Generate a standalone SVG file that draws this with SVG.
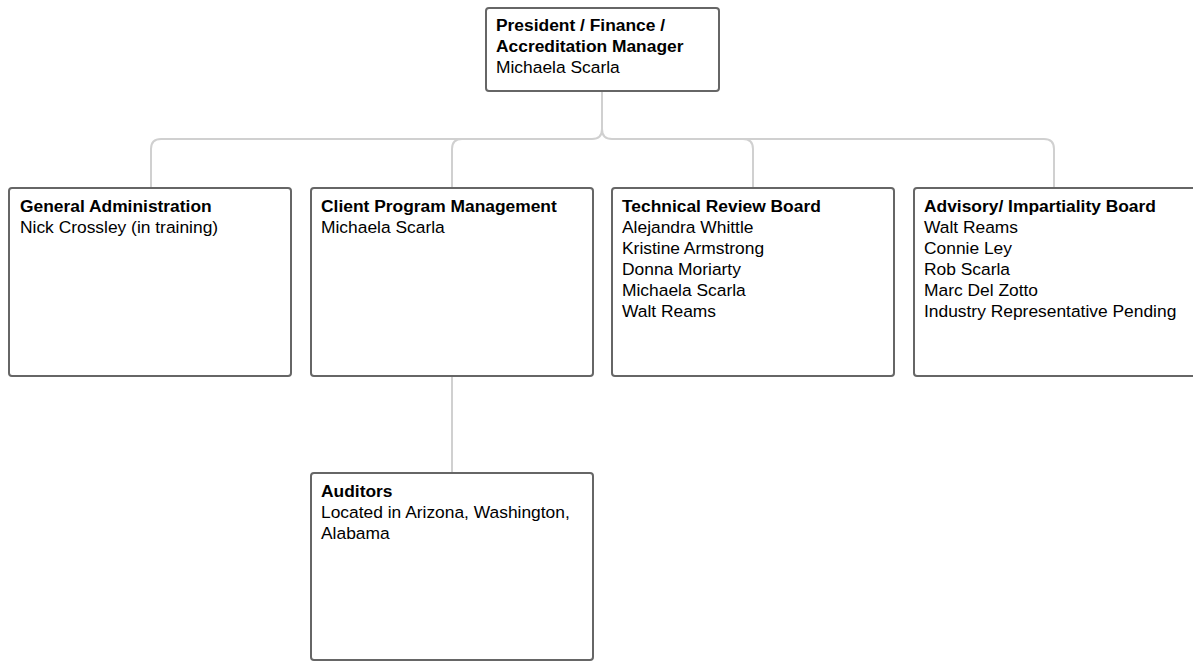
<svg xmlns="http://www.w3.org/2000/svg" width="1193" height="661" viewBox="0 0 1193 661">
<style>
.box{fill:#fff;stroke:#666;stroke-width:2}
.t{font-family:"Liberation Sans",Arial,sans-serif;font-size:17.4px;fill:#000}
.b{font-weight:bold}
.c{fill:none;stroke:#d0d0d0;stroke-width:2}
</style>
<rect width="1193" height="661" fill="#fff"/>
<g id="connectors">
<path class="c" d="M602,91 V129 Q602,139 592,139 H161 Q151,139 151,149 V188"/>
<path class="c" d="M602,129 Q602,139 612,139 H1044 Q1054,139 1054,149 V188"/>
<path class="c" d="M462,139 Q452,139 452,149 V188"/>
<path class="c" d="M743,139 Q753,139 753,149 V188"/>
<path class="c" d="M452,376 V473"/>
</g>
<g id="president">
<rect class="box" x="486" y="8" width="233" height="83" rx="3"/>
<text class="t" x="496" y="31"><tspan class="b">President / Finance /</tspan><tspan class="b" x="496" dy="21">Accreditation Manager</tspan><tspan x="496" dy="21">Michaela Scarla</tspan></text>
</g>
<g id="general-admin">
<rect class="box" x="9" y="188" width="282" height="188" rx="3"/>
<text class="t" x="20" y="212"><tspan class="b">General Administration</tspan><tspan x="20" dy="21">Nick Crossley (in training)</tspan></text>
</g>
<g id="client-program">
<rect class="box" x="311" y="188" width="282" height="188" rx="3"/>
<text class="t" x="321" y="212"><tspan class="b">Client Program Management</tspan><tspan x="321" dy="21">Michaela Scarla</tspan></text>
</g>
<g id="technical-review">
<rect class="box" x="612" y="188" width="282" height="188" rx="3"/>
<text class="t" x="622" y="212"><tspan class="b">Technical Review Board</tspan><tspan x="622" dy="21">Alejandra Whittle</tspan><tspan x="622" dy="21">Kristine Armstrong</tspan><tspan x="622" dy="21">Donna Moriarty</tspan><tspan x="622" dy="21">Michaela Scarla</tspan><tspan x="622" dy="21">Walt Reams</tspan></text>
</g>
<g id="advisory">
<rect class="box" x="914" y="188" width="282" height="188" rx="3"/>
<text class="t" x="924" y="212"><tspan class="b">Advisory/ Impartiality Board</tspan><tspan x="924" dy="21">Walt Reams</tspan><tspan x="924" dy="21">Connie Ley</tspan><tspan x="924" dy="21">Rob Scarla</tspan><tspan x="924" dy="21">Marc Del Zotto</tspan><tspan x="924" dy="21">Industry Representative Pending</tspan></text>
</g>
<g id="auditors">
<rect class="box" x="311" y="473" width="282" height="187" rx="3"/>
<text class="t" x="321" y="497"><tspan class="b">Auditors</tspan><tspan x="321" dy="21">Located in Arizona, Washington,</tspan><tspan x="321" dy="21">Alabama</tspan></text>
</g>
</svg>
